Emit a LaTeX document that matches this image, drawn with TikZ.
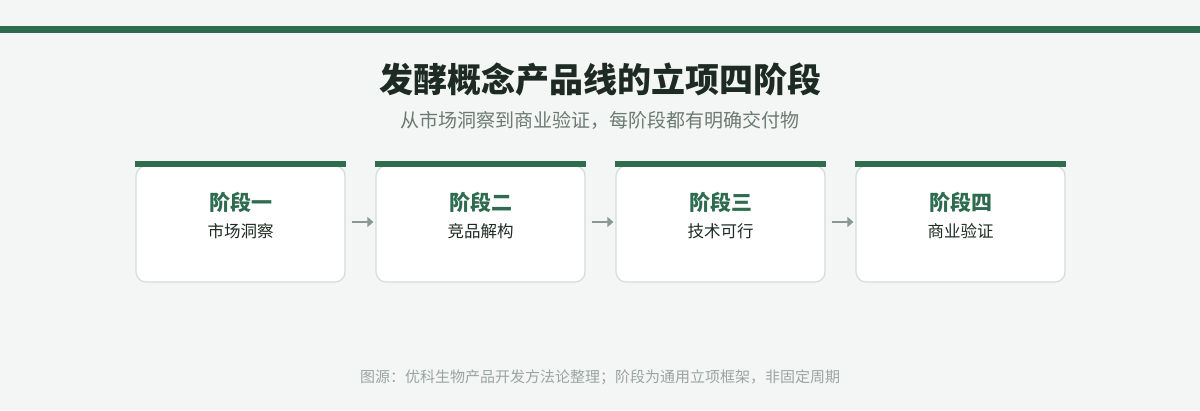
\documentclass[tikz,border=0pt]{standalone}
\usepackage{fontspec}
\setmainfont{Noto Sans CJK SC}
\usepackage{tikz}
\usetikzlibrary{arrows.meta}

\definecolor{bg}{HTML}{F4F6F5}
\definecolor{brand}{HTML}{2E6B4F}
\definecolor{ink}{HTML}{1E2B24}
\definecolor{subink}{HTML}{6B7A72}
\definecolor{noteink}{HTML}{9AA5A0}
\definecolor{edge}{HTML}{D3DDD8}
\definecolor{flow}{HTML}{8C9892}

\begin{document}
\begin{tikzpicture}[x=1pt, y=-1pt,
  stagebox/.style={draw=edge, line width=1.2pt, fill=white, rounded corners=10pt,
    minimum width=209pt, minimum height=116pt, inner sep=0pt},
  stagename/.style={text=brand, font=\fontsize{21}{24}\selectfont\bfseries},
  stagetext/.style={text=ink, font=\fontsize{16.5}{20}\selectfont},
  flowarrow/.style={draw=flow, line width=2.6pt, -{Triangle[length=6pt,width=10pt]},
    shorten <=6pt, shorten >=2pt}]
\useasboundingbox (0,0) rectangle (1200,410);
\fill[bg] (0,0) rectangle (1200,410);
\fill[brand] (0,26) rectangle (1200,33);

\node[text=ink, font=\fontsize{34}{38}\selectfont\bfseries] (title) at (600,80) {发酵概念产品线的立项四阶段};
\node[text=subink, font=\fontsize{19}{22}\selectfont] (sub) at (600,120) {从市场洞察到商业验证，每阶段都有明确交付物};

% stages
\node[stagebox] (s1) at (240.5,224) {};
\node[stagebox] (s2) at (480.5,224) {};
\node[stagebox] (s3) at (720.5,224) {};
\node[stagebox] (s4) at (960.5,224) {};
\foreach \s in {s1,s2,s3,s4}
  \fill[brand] ([yshift=4pt]\s.north west) rectangle ([yshift=-2pt]\s.north east);

\node[stagename] (n1) at (240.5,202) {阶段一};
\node[stagetext] (t1) at (240.5,231) {市场洞察};
\node[stagename] (n2) at (480.5,202) {阶段二};
\node[stagetext] (t2) at (480.5,231) {竞品解构};
\node[stagename] (n3) at (720.5,202) {阶段三};
\node[stagetext] (t3) at (720.5,231) {技术可行};
\node[stagename] (n4) at (960.5,202) {阶段四};
\node[stagetext] (t4) at (960.5,231) {商业验证};

\draw[flowarrow] ([yshift=2pt]s1.east) -- ([yshift=2pt]s2.west);
\draw[flowarrow] ([yshift=2pt]s2.east) -- ([yshift=2pt]s3.west);
\draw[flowarrow] ([yshift=2pt]s3.east) -- ([yshift=2pt]s4.west);

\node[text=noteink, font=\fontsize{15}{18}\selectfont] (note) at (600,377) {图源：优科生物产品开发方法论整理；阶段为通用立项框架，非固定周期};
\end{tikzpicture}
\end{document}
